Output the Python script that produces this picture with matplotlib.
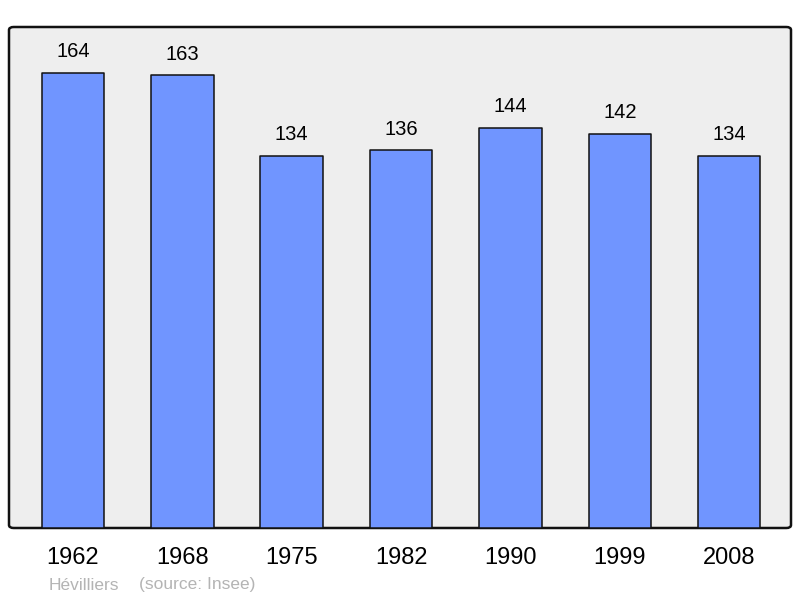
import matplotlib
matplotlib.use("Agg")
import matplotlib.pyplot as plt
from matplotlib.patches import FancyBboxPatch

years = ["1962", "1968", "1975", "1982", "1990", "1999", "2008"]
population = [164, 163, 134, 136, 144, 142, 134]

plt.rcParams['font.family'] = ['Liberation Sans', 'DejaVu Sans']

W, H = 800, 598
fig = plt.figure(figsize=(W / 100, H / 100), dpi=100)
ax = fig.add_axes([9 / W, (H - 528) / H, 782 / W, 501 / H])
ax.set_facecolor('none')

# rounded background frame
frame = FancyBboxPatch((0, 0), 1, 1,
                       boxstyle="round,pad=0,rounding_size=0.006",
                       transform=ax.transAxes, facecolor='#eeeeee',
                       edgecolor='#111111', linewidth=1.8, zorder=0, clip_on=False)
ax.add_patch(frame)

x = list(range(len(years)))
bars = ax.bar(x, population, width=0.572, color='#7095ff', edgecolor='#111111',
              linewidth=1.1, joinstyle='round', zorder=2)

for xi, v in zip(x, population):
    ax.annotate(str(v), (xi, v), xytext=(0, 8.5), textcoords='offset points',
                ha='center', va='bottom', fontsize=14.5, color='#000000')

ax.set_xlim(-0.585, 6.565)
ax.set_ylim(0, 164 * 1.1)
for s in ax.spines.values():
    s.set_visible(False)
ax.set_yticks([])
ax.set_xticks(x)
ax.set_xticklabels(years, fontsize=17)
ax.tick_params(axis='x', length=0, pad=14)

fig.text(49 / W, 1 - 585 / H, "Hévilliers", fontsize=12.5, color='#b4b4b4',
         ha='left', va='center')
fig.text(139 / W, 1 - 585 / H, "(source: Insee)", fontsize=12.5, color='#b4b4b4',
         ha='left', va='center')

fig.savefig("out.png", dpi=100)
